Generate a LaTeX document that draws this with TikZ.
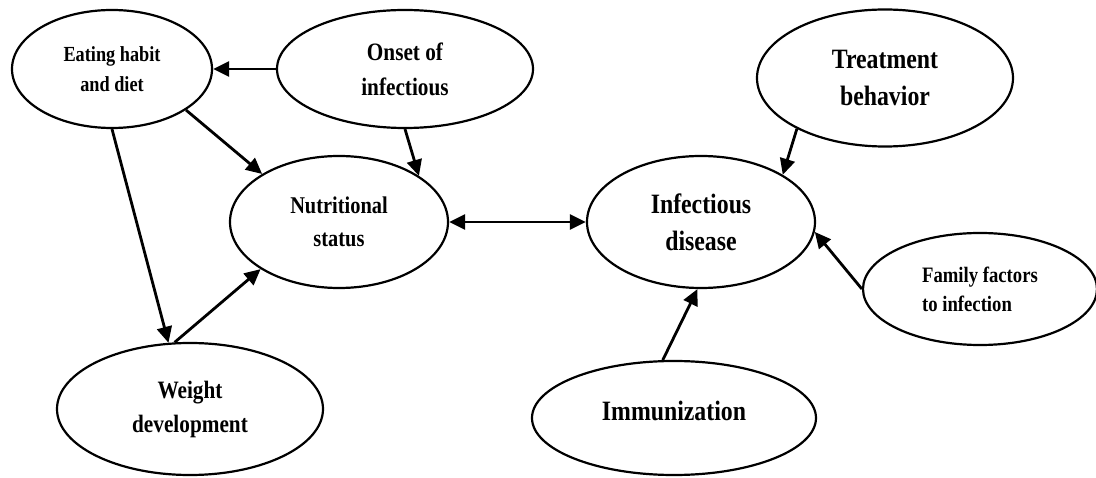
\documentclass[tikz,border=0pt]{standalone}
\usepackage{fontspec}
\setmainfont{Liberation Serif}[FakeStretch=0.85]
\usepackage{tikz}
\usetikzlibrary{arrows.meta,positioning,shapes.geometric}
\newcommand{\lblsize}[2]{\bfseries\fontsize{#1}{#2}\selectfont}

\begin{document}
\begin{tikzpicture}[x=1pt, y=-1pt,
    bub/.style={draw, ellipse, line width=2.2pt, inner sep=0pt, align=center},
    arr/.style={-{Triangle[length=16pt,width=15pt]}, line width=2.8pt}]
    \useasboundingbox (0,0) rectangle (1096,478);

    % left side: nutrition
    \node[bub, minimum width=200pt, minimum height=118pt, font=\lblsize{21.5pt}{30pt}] (eat) at (112,69) {Eating habit\\and diet};
    \node[bub, minimum width=256pt, minimum height=118pt, font=\lblsize{25pt}{35pt}] (onset) at (405,69) {Onset of\\infectious};
    \node[bub, minimum width=218pt, minimum height=132pt, font=\lblsize{24pt}{33pt}] (nutri) at (339,222) {Nutritional\\status};
    \node[bub, minimum width=266pt, minimum height=132pt, font=\lblsize{25pt}{34pt}] (weight) at (190,409) {Weight\\development};

    % right side: infection
    \node[bub, minimum width=256pt, minimum height=137pt, font=\lblsize{28pt}{37pt}] (treat) at (885,78) {Treatment\\behavior};
    \node[bub, minimum width=228pt, minimum height=132pt, font=\lblsize{28pt}{37pt}] (infect) at (701,222) {Infectious\\disease};
    \node[bub, minimum width=234pt, minimum height=112pt, align=left, font=\lblsize{22pt}{29pt}] (family) at (980,289) {Family factors\\to infection};
    \node[bub, minimum width=284pt, minimum height=114pt, text depth=14pt, font=\lblsize{28pt}{37pt}] (immun) at (674,418) {Immunization};

    % arrows
    \draw[arr] (onset) -- (eat);
    \draw[arr] (eat.-29) -- (nutri.148);
    \draw[arr] (onset.south) -- (nutri.30);
    \draw[arr] (eat.south) -- (weight.108);
    \draw[arr] (weight.103) -- (nutri.211);
    \draw[arr, {Triangle[length=16pt,width=15pt]}-{Triangle[length=16pt,width=15pt]}] (nutri) -- (infect);
    \draw[arr] (treat.210) -- (infect.30);
    \draw[arr] (family.west) -- (infect.-5);
    \draw[arr] (immun.101) -- (infect.267);
\end{tikzpicture}
\end{document}
